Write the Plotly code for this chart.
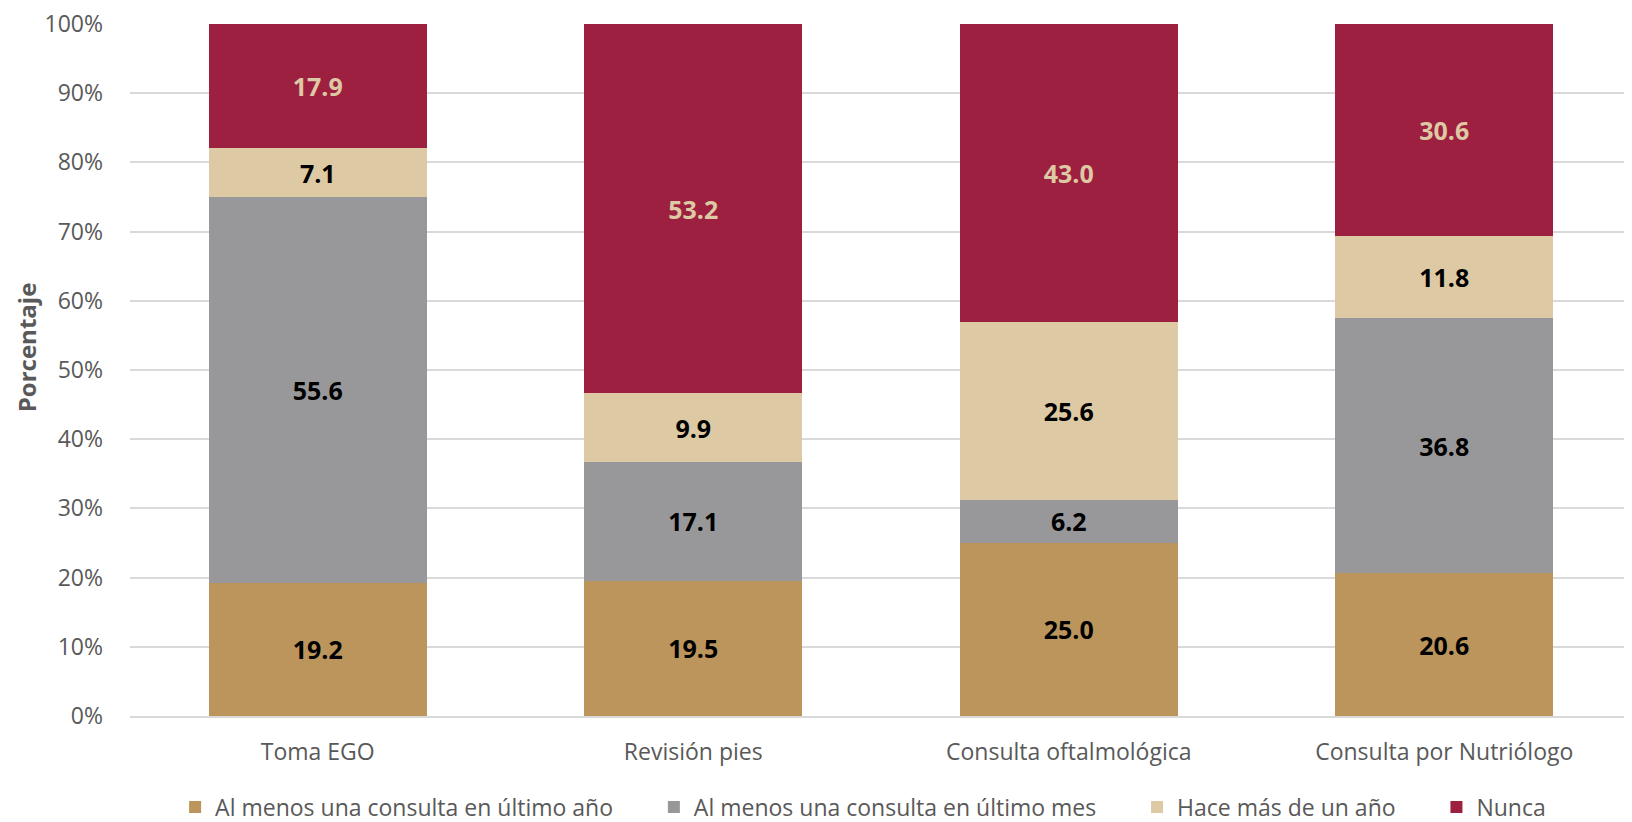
import plotly.graph_objects as go

categorias = ['Toma EGO', 'Revisión pies', 'Consulta oftalmológica', 'Consulta por Nutriólogo']
ultimo_anio = [19.2, 19.5, 25.0, 20.6]
ultimo_mes = [55.6, 17.1, 6.2, 36.8]
mas_de_un_anio = [7.1, 9.9, 25.6, 11.8]
nunca = [17.9, 53.2, 43.0, 30.6]

pad = '\u00a0' * 6
series = [
    ('Al menos una consulta en último año', ultimo_anio, '#BC955C', 'black'),
    ('Al menos una consulta en último mes', ultimo_mes, '#98989A', 'black'),
    ('Hace más de un año', mas_de_un_anio, '#DDC9A3', 'black'),
    ('Nunca', nunca, '#9D2040', '#DDC9A3'),
]

fig = go.Figure()
for nombre, valores, color, color_txt in series:
    fig.add_trace(go.Bar(
        x=categorias, y=valores, name=nombre + pad,
        marker=dict(color=color, line=dict(width=0)),
        text=[f'{v:.1f}' for v in valores],
        textposition='inside', insidetextanchor='middle',
        textfont=dict(color=color_txt, size=25, family='Open Sans', weight='bold'),
        textangle=0,
    ))

# the page body adds 8px around the figure, so margins are shifted to compensate
fig.update_layout(
    barmode='stack',
    barnorm='percent',
    bargap=0.42,
    width=1632, height=822,
    plot_bgcolor='white', paper_bgcolor='white',
    margin=dict(l=122, r=8, t=16, b=114),
    font=dict(family='Open Sans', color='#595959', size=23),
    legend=dict(orientation='h', x=0.535, xanchor='center', xref='container',
                y=0.028, yanchor='middle', yref='container',
                font=dict(size=23, color='#595959'), traceorder='normal',
                itemwidth=30),
    annotations=[dict(text='<b>Porcentaje</b>', textangle=-90, showarrow=False,
                      xref='paper', yref='paper', x=-0.0692, y=0.533,
                      xanchor='center', yanchor='middle',
                      font=dict(size=24, color='#595959'))],
)
fig.update_yaxes(
    range=[0, 100], dtick=10, ticksuffix='%', automargin=False,
    showgrid=True, gridcolor='#D9D9D9', gridwidth=2,
    zeroline=False, tickfont=dict(size=23, color='#595959'), ticklabelstandoff=26,
    ticklabeloverflow='allow',
)
fig.update_xaxes(showline=True, linecolor='#D9D9D9', linewidth=2, automargin=False,
                 tickfont=dict(size=23, color='#595959'), ticklabelstandoff=14)

fig.write_html('out.html')
